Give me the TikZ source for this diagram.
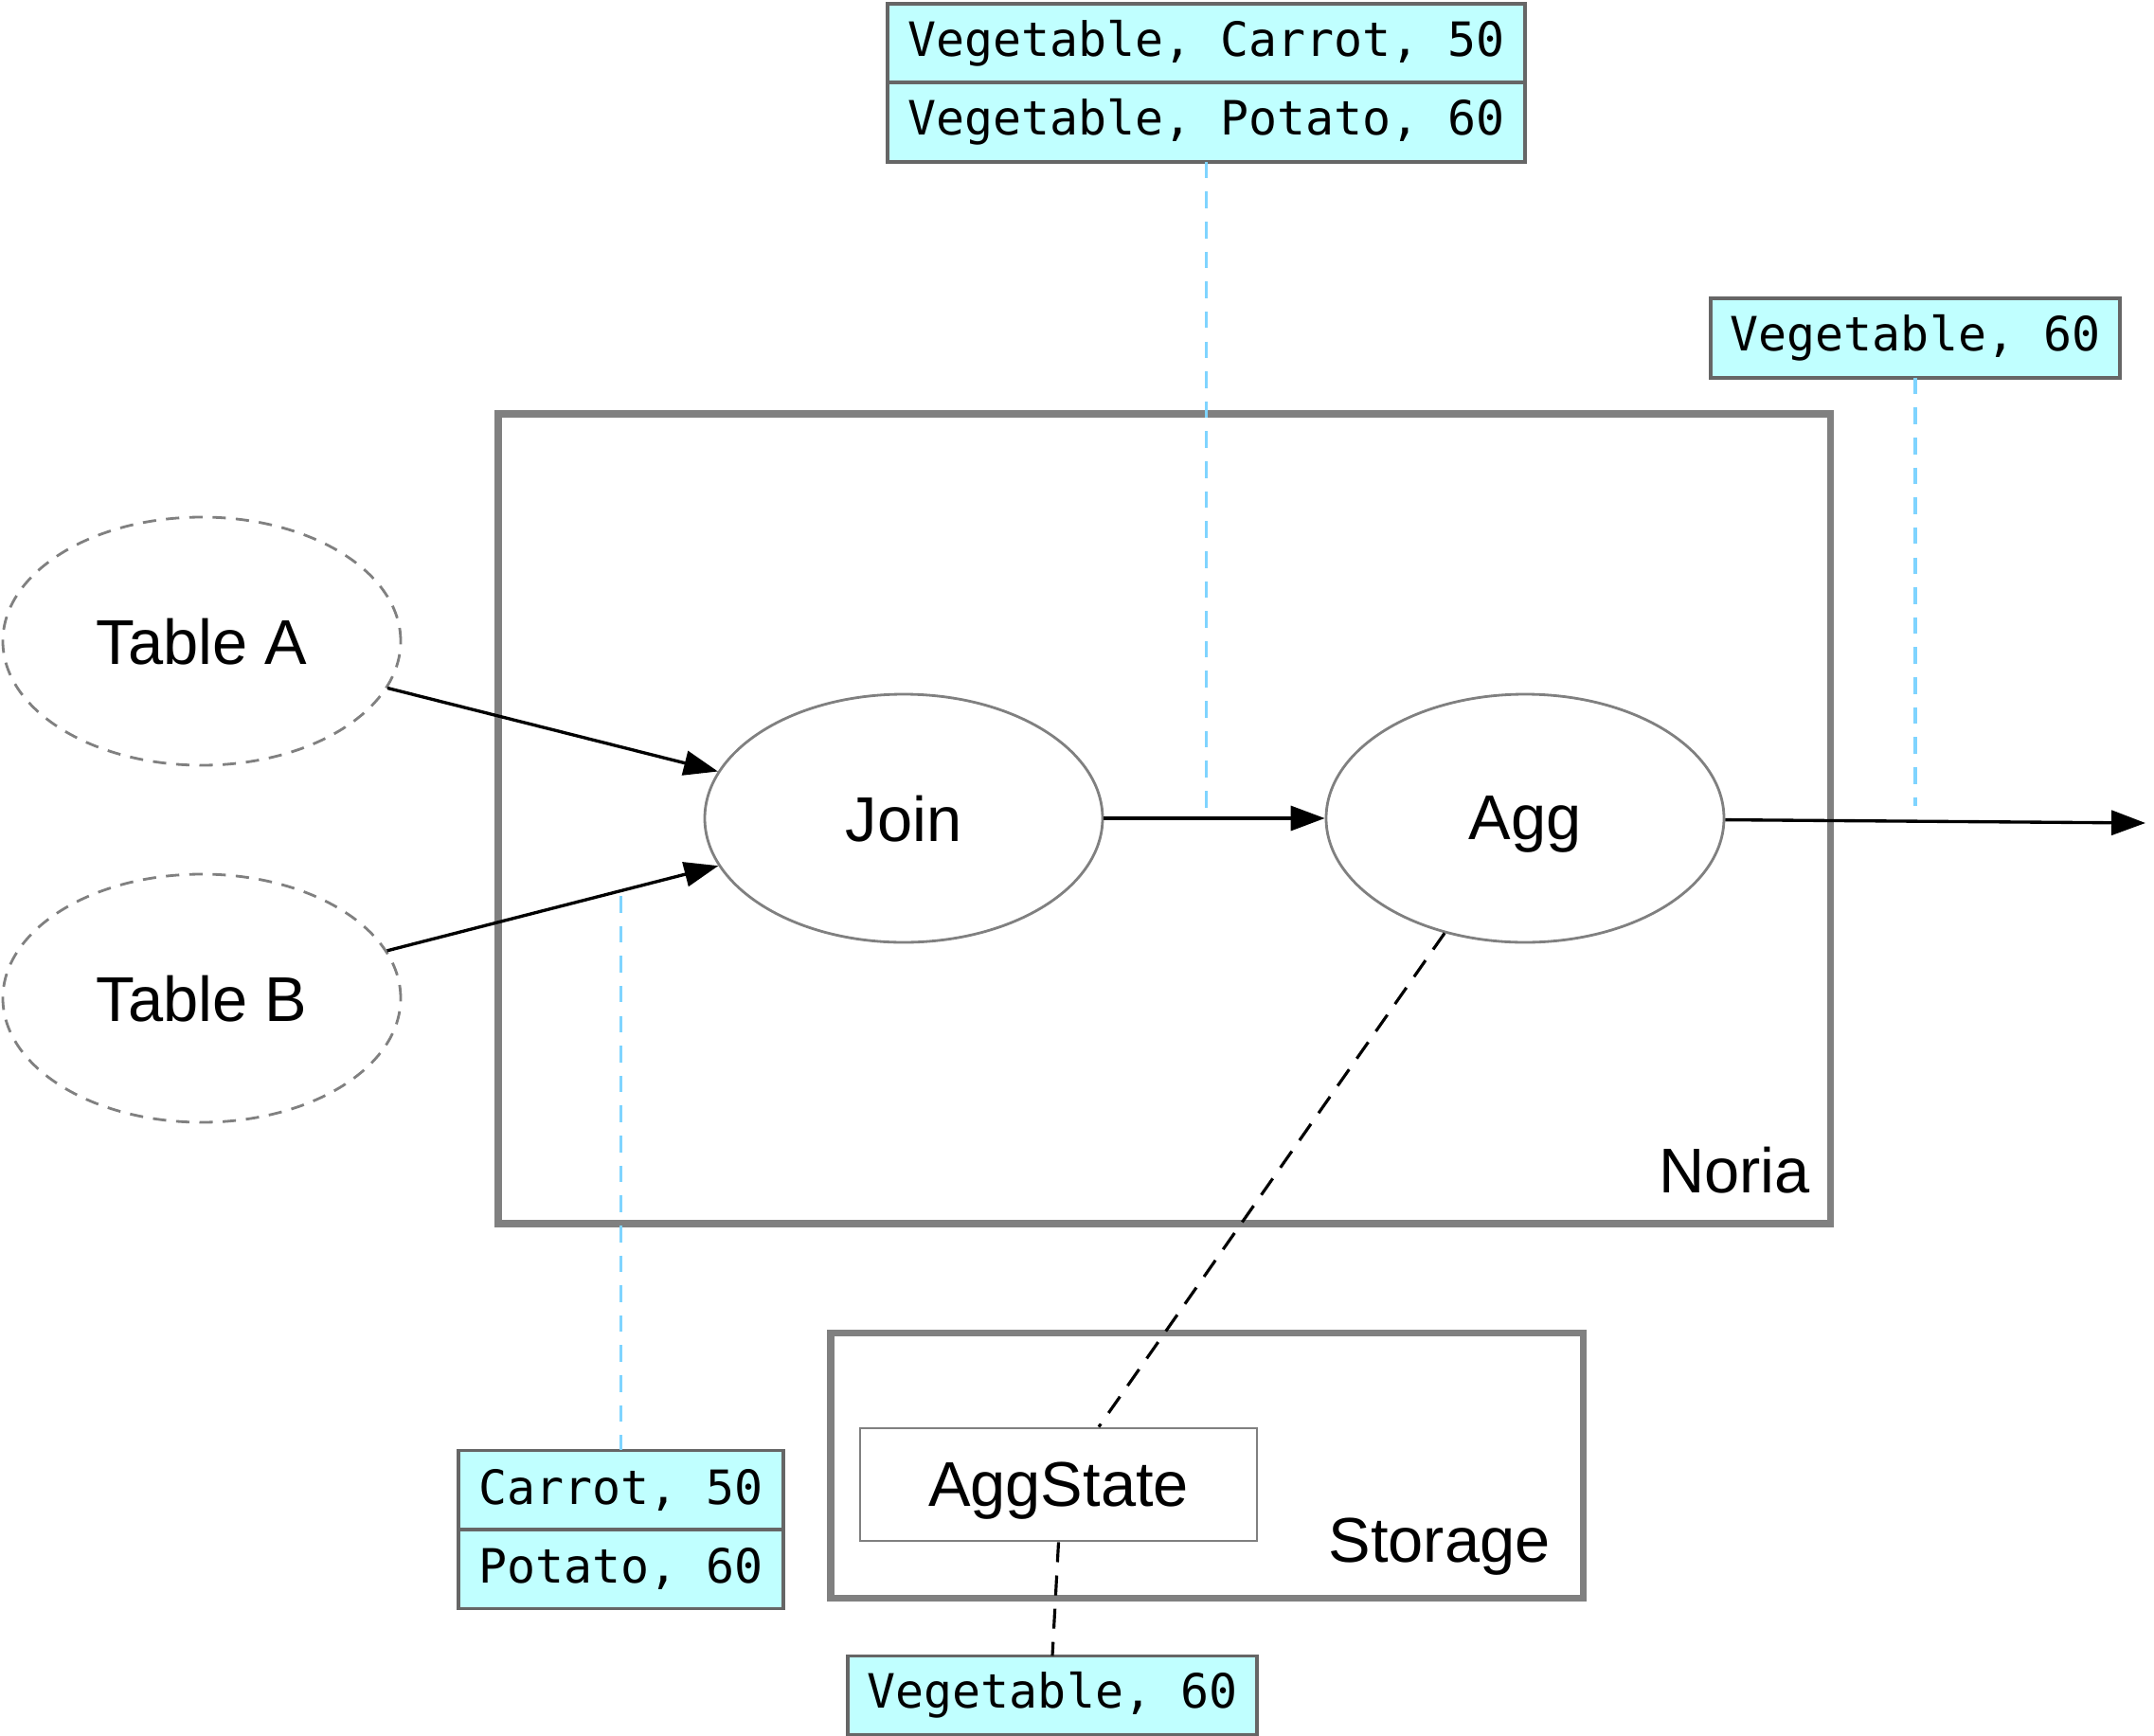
\documentclass[tikz,border=0pt]{standalone}
\usepackage{fontspec}
\setmainfont{Liberation Sans}
\setmonofont{DejaVu Sans Mono}
\usetikzlibrary{positioning,shapes.geometric,arrows.meta}
\definecolor{rowfill}{HTML}{C0FFFF}
\definecolor{edgegray}{HTML}{808080}
\definecolor{recgray}{HTML}{666666}
\definecolor{tracecol}{HTML}{7FD4FF}
\begin{document}
\begin{tikzpicture}[font=\fontsize{19}{23}\selectfont,
op/.style={ellipse, draw=edgegray, line width=0.8pt, minimum width=4.2cm, minimum height=2.62cm, inner sep=0pt, text depth=0pt},
src/.style={op, dash pattern=on 4pt off 3pt},
row/.style={draw=recgray, fill=rowfill, line width=1pt, outer sep=0pt, inner sep=0pt, minimum height=0.835cm, font=\ttfamily\fontsize{14.2}{17}\selectfont},
group/.style={draw=edgegray, line width=2pt},
flow/.style={-{Triangle[length=0.36cm,width=0.26cm]}, line width=0.95pt},
trace/.style={draw=tracecol, line width=0.9pt, dash pattern=on 5pt off 4pt},
link/.style={line width=0.9pt, dash pattern=on 6pt off 4pt}]
\useasboundingbox (0,0) rectangle (22.74,-18.33);

\draw[group] (5.26,-4.37) rectangle (19.32,-12.92);
\node[anchor=base east] (norialabel) at (19.23,-12.59) {Noria};
\draw[group] (8.77,-14.07) rectangle (16.71,-16.87);
\node[anchor=base east] (storagelabel) at (16.49,-16.49) {Storage};

\node[src] (tablea) at (2.13,-6.77) {Table A};
\node[src] (tableb) at (2.13,-10.54) {Table B};
\node[op] (join) at (9.54,-8.64) {Join};
\node[op] (agg) at (16.10,-8.64) {Agg};
\node[draw=edgegray, line width=0.8pt, minimum width=4.19cm, minimum height=1.19cm, text depth=0pt] (aggstate) at (11.175,-15.675) {AggState};
\coordinate (sink) at (22.65,-8.69);

\node[row, minimum width=6.73cm] (vcp1) at (12.735,-0.455) {Vegetable, Carrot, 50};
\node[row, minimum width=6.73cm, below=0pt of vcp1] (vcp2) {Vegetable, Potato, 60};
\node[row, minimum width=4.32cm] (vsum) at (20.22,-3.57) {Vegetable, 60};
\node[row, minimum width=3.43cm] (cp1) at (6.555,-15.73) {Carrot, 50};
\node[row, minimum width=3.43cm, below=0pt of cp1] (cp2) {Potato, 60};
\node[row, minimum width=4.32cm] (vout) at (11.11,-17.90) {Vegetable, 60};

\draw[flow] (tablea) -- (join);
\draw[flow] (tableb) -- (join);
\draw[flow] (join) -- (agg);
\draw[flow] (agg) -- (sink);
\draw[link] (agg) -- ([xshift=4.25mm]aggstate.north);
\draw[link] (aggstate.south) -- (vout.north);

\coordinate (t1) at (12.735,-8.56);
\coordinate (t2) at (20.22,-8.51);
\coordinate (t3) at (6.555,-9.46);
\draw[trace] (vcp2.south) -- (t1);
\draw[trace] (vsum.south) -- (t2);
\draw[trace] (t3) -- (cp1.north);
\end{tikzpicture}
\end{document}
